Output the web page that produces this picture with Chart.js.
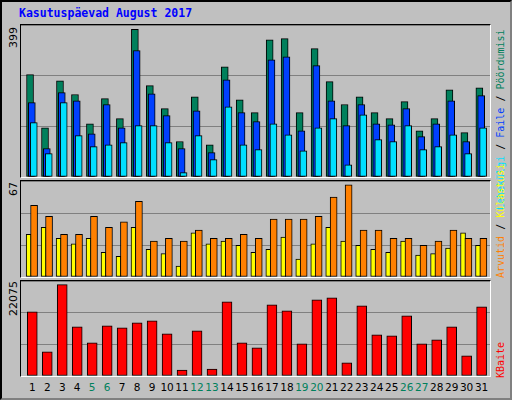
<!DOCTYPE html>
<html>
<head>
<meta charset="utf-8">
<script src="https://cdn.jsdelivr.net/npm/chart.js@4.4.0/dist/chart.umd.min.js"></script>
<style>
  body { margin: 0; width: 512px; height: 400px; background: #c0c0c0; overflow: hidden; }
  #frame { position: absolute; left: 0; top: 0; width: 508px; height: 396px; border: 2px solid #000; border-right-color: #808080; border-bottom-color: #808080; }
  #title { position: absolute; left: 19px; top: 6px; font: bold 11.5px "DejaVu Sans Mono", monospace; color: #0000ff; }
  .panel { position: absolute; left: 20px; width: 469px; border-top: 1px solid #000; border-left: 1px solid #000; border-right: 1px solid #fff; border-bottom: 1px solid #fff; }
  .panel canvas { display: block; }
  .vlab { position: absolute; transform-origin: 0 0; transform: rotate(-90deg); white-space: nowrap; }
  .ylab { font: 11px "DejaVu Sans", sans-serif; color: #000; }
  .rlab { font: 10px "DejaVu Sans Mono", monospace; }
  .day { position: absolute; top: 381px; width: 20px; margin-left: -10px; text-align: center; font: 10.5px "DejaVu Sans", sans-serif; color: #000; }
</style>
</head>
<body>
<div id="frame"></div>
<div id="title">Kasutuspäevad August 2017</div>

<div class="panel" style="top:24px;height:152px"><canvas id="c1" width="469" height="152"></canvas></div>
<div class="panel" style="top:180px;height:96px"><canvas id="c2" width="469" height="96"></canvas></div>
<div class="panel" style="top:280px;height:95px"><canvas id="c3" width="469" height="95"></canvas></div>

<div class="vlab ylab" style="left:7px;top:48px">399</div>
<div class="vlab ylab" style="left:7px;top:196px">67</div>
<div class="vlab ylab" style="left:7px;top:316px">22075</div>

<div class="vlab rlab" style="left:495px;top:210px"><span style="color:#00e0ff">Lehekülgi</span><span style="color:#000"> / </span><span style="color:#0040ff">Faile</span><span style="color:#000"> / </span><span style="color:#00805c">Pöördumisi</span></div>
<div class="vlab rlab" style="left:495px;top:278px"><span style="color:#ff8000">Arvutid</span><span style="color:#000"> / </span><span style="color:#ffff00">Külastusi</span></div>
<div class="vlab rlab" style="left:495px;top:378px;color:#ff0000">KBaite</div>

<div id="days"></div>

<script>
const days = [1,2,3,4,5,6,7,8,9,10,11,12,13,14,15,16,17,18,19,20,21,22,23,24,25,26,27,28,29,30,31];
const weekends = [5,6,12,13,19,20,26,27];

const hits  = [277,133,260,223,144,212,158,399,247,185,96,217,87,298,209,174,371,374,174,347,258,196,217,174,158,204,125,158,236,120,241];
const files = [201,77,228,206,117,196,133,342,225,166,77,179,66,263,174,150,317,325,125,301,206,139,196,144,141,185,109,144,206,96,220];
const pages = [147,63,201,112,82,87,93,139,139,93,12,112,47,190,87,74,144,114,71,133,158,33,168,101,96,139,74,82,114,63,133];

const visits = [31,36,28,24,28,18,15,36,20,17,8,32,24,26,23,18,20,29,13,24,36,26,23,20,18,26,16,17,21,32,23];
const sites  = [52,44,31,31,44,36,40,55,26,28,26,34,28,28,31,28,42,42,42,44,58,67,34,34,28,28,23,26,34,28,28];

const kbytes = [15525,5822,22075,11886,8005,12129,11644,12857,13342,10188,1455,10916,1698,17951,8005,6792,17223,15768,7763,18436,18921,3154,16981,9946,9703,14555,7763,8733,11886,4852,16738];

const xMin = 0.247, xMax = 31.56;

function pts(values, shift) {
    return values.map((v, i) => ({ x: days[i] + shift, y: v }));
}

// order: higher number is drawn first (further back)
function ds(values, shift, color, width, order) {
    return {
        data: pts(values, shift),
        backgroundColor: color,
        borderColor: '#000',
        borderWidth: 1,
        borderSkipped: false,
        barThickness: width,
        grouped: false,
        order: order
    };
}

function makeChart(id, datasets, yMax) {
    new Chart(document.getElementById(id), {
        type: 'bar',
        data: { datasets: datasets },
        options: {
            responsive: false,
            animation: false,
            layout: { padding: 0 },
            plugins: { legend: { display: false }, tooltip: { enabled: false } },
            scales: {
                x: { type: 'linear', min: xMin, max: xMax, display: false, offset: false },
                y: {
                    min: 0, max: yMax,
                    ticks: { display: false, stepSize: yMax / 3 },
                    grid: { color: '#808080', lineWidth: 1, drawTicks: false },
                    border: { display: false }
                }
            }
        }
    });
}

makeChart('c1', [
    ds(hits, -0.15, '#00805c', 7, 3),
    ds(files, -0.03, '#0040ff', 7, 2),
    ds(pages, 0.1, '#00e0ff', 7, 1)
], 411);

makeChart('c2', [
    ds(visits, -0.24, '#ffff00', 5, 2),
    ds(sites, 0.12, '#ff8000', 7, 1)
], 69.7);

makeChart('c3', [
    ds(kbytes, 0, '#ff0000', 10, 1)
], 22964);

// day labels under the bottom panel
const dayBox = document.getElementById('days');
days.forEach(d => {
    const el = document.createElement('div');
    el.className = 'day';
    el.textContent = d;
    el.style.left = (21 + (d - xMin) * 469 / (xMax - xMin)) + 'px';
    if (weekends.includes(d)) el.style.color = '#00805c';
    dayBox.appendChild(el);
});
</script>
</body>
</html>
